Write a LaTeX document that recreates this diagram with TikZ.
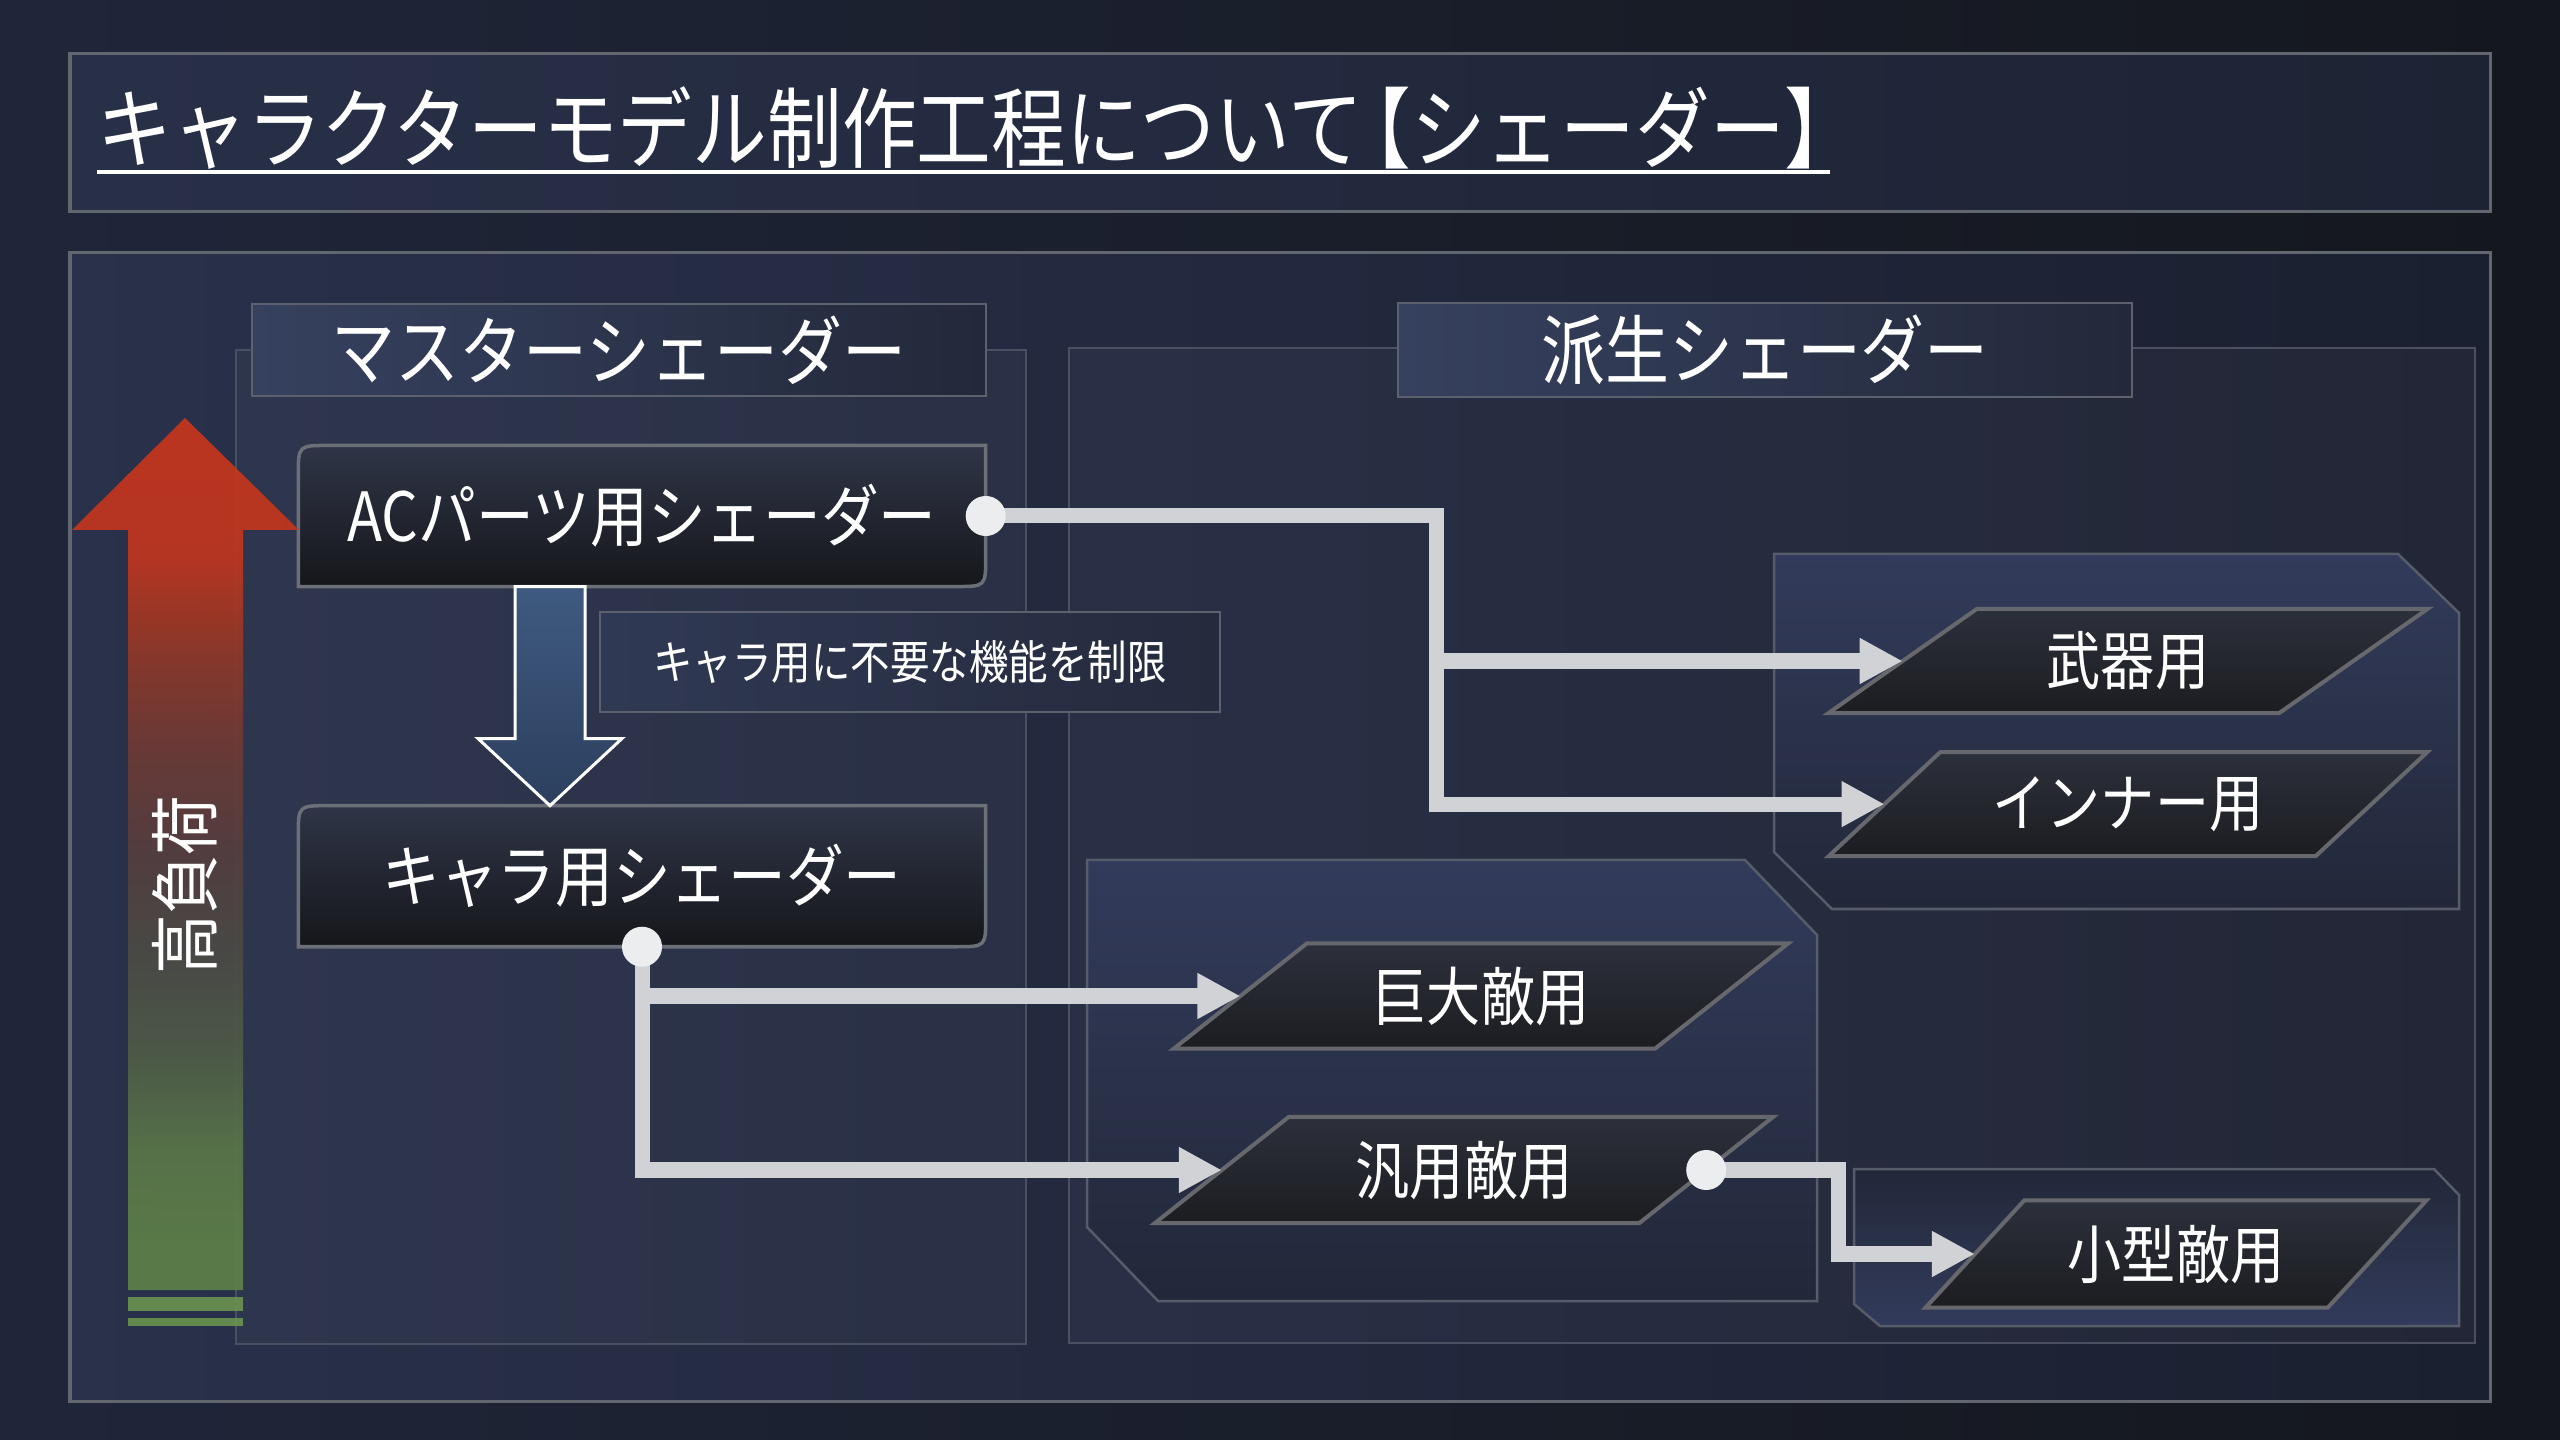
\documentclass[tikz,border=0pt]{standalone}
\usepackage{fontspec}
\setmainfont{Noto Sans CJK JP}[FakeStretch=0.85]
\usetikzlibrary{arrows.meta,calc,positioning,shapes.geometric}
\definecolor{BgLeft}{HTML}{20263A}
\definecolor{BgRight}{HTML}{14171D}
\definecolor{TitleL}{HTML}{283048}
\definecolor{TitleR}{HTML}{1E2334}
\definecolor{MainL}{HTML}{29314B}
\definecolor{MainR}{HTML}{1B2030}
\definecolor{FrameGray}{HTML}{62666F}
\definecolor{PanelLine}{HTML}{4A5061}
\definecolor{HeadL}{HTML}{36415F}
\definecolor{HeadR}{HTML}{23293A}
\definecolor{HeadLine}{HTML}{5C616D}
\definecolor{BoxTop}{HTML}{2F3547}
\definecolor{BoxBot}{HTML}{16171B}
\definecolor{BoxLine}{HTML}{6C6F77}
\definecolor{ParaTop}{HTML}{2C303B}
\definecolor{ParaBot}{HTML}{1C1D21}
\definecolor{ParaLine}{HTML}{66686D}
\definecolor{GroupTop}{HTML}{323B5B}
\definecolor{GroupBot}{HTML}{222839}
\definecolor{GroupLine}{HTML}{575C6A}
\definecolor{NoteL}{HTML}{303954}
\definecolor{NoteR}{HTML}{252B3D}
\definecolor{ConnGray}{HTML}{D0D2D6}
\definecolor{DotWhite}{HTML}{ECEDEF}
\definecolor{LoadRed}{HTML}{C8361C}
\definecolor{LoadGreen}{HTML}{5E8048}
\definecolor{StripeGreen}{HTML}{6A9150}
\definecolor{DownTop}{HTML}{3F5A80}
\definecolor{DownBot}{HTML}{2C3F5E}

% red (top) to green (bottom), stops from the bottom up; the path fills 25bp..75bp
\pgfdeclareverticalshading{loadbar}{100bp}{%
  color(0bp)=(LoadGreen); color(27.5bp)=(LoadGreen); color(33bp)=(rgb,255:red,90;green,118;blue,72);
  color(38.5bp)=(rgb,255:red,79;green,92;blue,71); color(44.5bp)=(rgb,255:red,75;green,74;blue,69);
  color(50bp)=(rgb,255:red,85;green,63;blue,63); color(56bp)=(rgb,255:red,110;green,58;blue,53);
  color(61.5bp)=(rgb,255:red,144;green,56;blue,40); color(67bp)=(rgb,255:red,192;green,54;blue,30);
  color(75bp)=(LoadRed); color(100bp)=(LoadRed)}

\pgfdeclarelayer{backdrop}
\pgfdeclarelayer{boxes}
\pgfsetlayers{backdrop,boxes,main}

\tikzset{
  frame/.style={draw=FrameGray,line width=0.03cm},
  panel/.style={draw=PanelLine,line width=0.02cm,fill=white,fill opacity=0.03,draw opacity=1},
  group/.style={draw=GroupLine,line width=0.025cm},
  header/.style={draw=HeadLine,line width=0.02cm,left color=HeadL,right color=HeadR,
    minimum width=7.34cm,minimum height=0.86cm,text=white,font=\fontsize{21.4pt}{25pt}\selectfont},
  shaderbox/.style={minimum width=6.87cm,minimum height=1.41cm,outer sep=0pt,text=white,
    font=\fontsize{19.3pt}{23pt}\selectfont},
  notebox/.style={draw=HeadLine,line width=0.02cm,left color=NoteL,right color=NoteR,
    minimum width=6.19cm,minimum height=1.0cm,text=white,font=\fontsize{13.2pt}{16pt}\selectfont},
  para/.style={trapezium,trapezium left angle=42,trapezium right angle=138,trapezium stretches=true,
    draw=ParaLine,line width=0.04cm,top color=ParaTop,bottom color=ParaBot,outer sep=0pt,
    minimum width=5.99cm,minimum height=1.04cm,text=white,font=\fontsize{18.1pt}{21pt}\selectfont},
  conn/.style={draw=ConnGray,line width=0.15cm},
  connarrow/.style={conn,-{Triangle[length=0.43cm,width=0.43cm]}},
}

\begin{document}
\begin{tikzpicture}[x=0.01cm,y=-0.01cm]
\useasboundingbox (0,0) rectangle (2560,1440);

% backdrop and frames
\begin{pgfonlayer}{backdrop}
  \shade[left color=BgLeft,right color=BgRight] (0,0) rectangle (2560,1440);
  \draw[frame,left color=TitleL,right color=TitleR] (70,54) rectangle (2490,212);
  \draw[frame,left color=MainL,right color=MainR] (70,253) rectangle (2490,1401);
  \draw[panel] (236,350) rectangle (1026,1344);
  \draw[panel] (1069,348) rectangle (2475,1343);
  \draw[group,top color=GroupTop,bottom color=GroupBot] (1774,554) -- (2398,554) -- (2459,613) -- (2459,909) -- (1832,909) -- (1774,852) -- cycle;
  \draw[group,top color=GroupTop,bottom color=GroupBot] (1087,860) -- (1745,860) -- (1817,935) -- (1817,1301) -- (1158,1301) -- (1087,1227) -- cycle;
  \draw[group,top color=GroupBot,bottom color=GroupTop] (1854,1169) -- (2434,1169) -- (2459,1195) -- (2459,1326) -- (1880,1326) -- (1854,1304) -- cycle;
\end{pgfonlayer}

% title
\node[anchor=base west,inner sep=0pt,text=white,font=\fontsize{25pt}{29pt}\selectfont] (title) at (97,162) {キャラクターモデル制作工程について\kern-0.3em【シェーダー】};
\draw[white,line width=0.04cm] ($(title.base west)+(0,10)$) -- ($(title.base east)+(-30,10)$);

% load arrow
\shade[shading=loadbar,opacity=0.92]
  (185,418) -- (299,530) -- (243,530) -- (243,1290) -- (128,1290) -- (128,530) -- (72,530) -- cycle;
\fill[StripeGreen,opacity=0.92] (128,1297) rectangle (243,1311);
\fill[StripeGreen,opacity=0.92] (128,1318) rectangle (243,1326);
\node[rotate=90,text=white,font=\fontsize{20pt}{24pt}\selectfont] (load) at (185,885) {高負荷};

% headers
\node[header] (mhead) at (619,350) {マスターシェーダー};
\node[header] (dhead) at (1765,350) {派生シェーダー};

% master shaders
\node[shaderbox] (acbox) at (642,516) {ACパーツ用シェーダー};
\node[shaderbox,below=2.19cm of acbox] (charabox) {キャラ用シェーダー};
\node[notebox] (note) at (910,662) {キャラ用に不要な機能を制限};
\begin{pgfonlayer}{boxes}
  \foreach \b in {acbox,charabox}
    \draw[draw=BoxLine,line width=0.035cm,top color=BoxTop,bottom color=BoxBot]
      ($(\b.north west)+(0,30)$) .. controls (\b.north west) .. ($(\b.north west)+(30,0)$)
      -- (\b.north east) -- ($(\b.south east)+(0,-30)$) .. controls (\b.south east) .. ($(\b.south east)+(-30,0)$)
      -- (\b.south west) -- cycle;
\end{pgfonlayer}
\coordinate (downtop) at ($(acbox.south)+(-92,0)$);
\draw[white,line width=0.03cm,top color=DownTop,bottom color=DownBot]
  ($(downtop)+(-35,0)$) -- ($(downtop)+(-35,152)$) -- ($(downtop)+(-72,152)$) -- ($(charabox.north)+(-92,0)$)
  -- ($(downtop)+(72,152)$) -- ($(downtop)+(35,152)$) -- ($(downtop)+(35,0)$) -- cycle;

% derived shaders
\node[para] (weapon) at (2128,661) {武器用};
\node[para,below=0.39cm of weapon] (inner) {インナー用};
\node[para,minimum width=6.14cm,minimum height=1.05cm] (giant) at (1481,996) {巨大敵用};
\node[para,minimum width=6.18cm,minimum height=1.06cm] (generic) at (1464,1170) {汎用敵用};
\node[para,trapezium left angle=46.6,trapezium right angle=133.4,minimum width=5.01cm,minimum height=1.07cm] (small) at (2176,1254) {小型敵用};

% connectors
\coordinate (bus) at (1436,516);
\draw[connarrow] (acbox.east) -| (bus |- weapon.left side) -- (weapon.left side);
\draw[connarrow] (bus) |- (inner.left side);
\draw[connarrow] (charabox.south) |- (giant.left side);
\draw[connarrow] (charabox.south) |- (generic.left side);
\draw[connarrow] (generic.right side) -- ++(132,0) |- (small.left side);
\foreach \p in {acbox.east,charabox.south,generic.right side}
  \fill[DotWhite] (\p) circle (0.2cm);
\end{tikzpicture}
\end{document}
